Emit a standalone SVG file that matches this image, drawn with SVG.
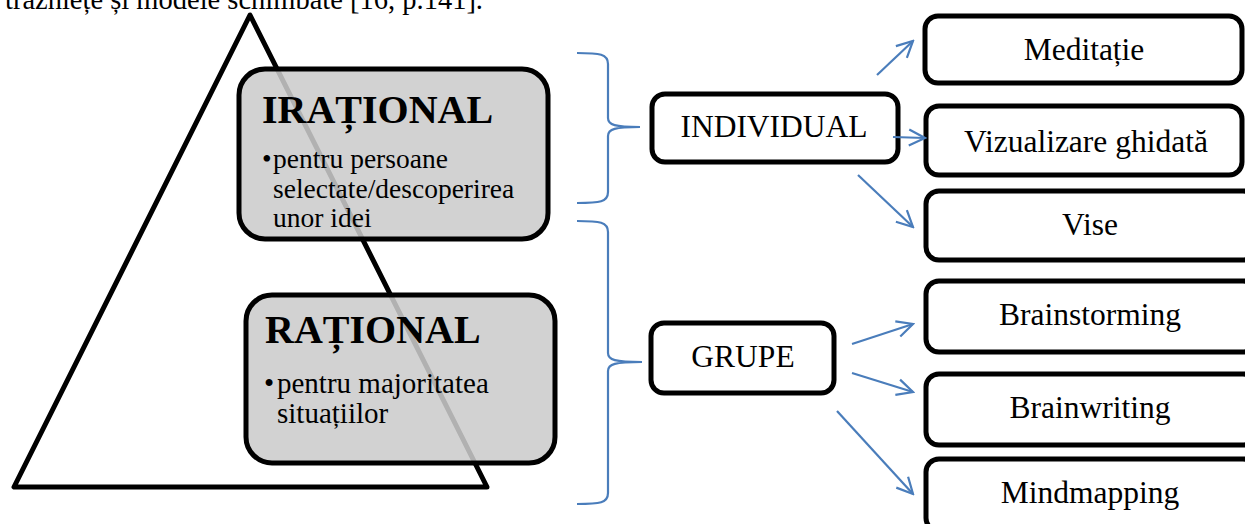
<svg xmlns="http://www.w3.org/2000/svg" width="1245" height="524" viewBox="0 0 1245 524">
<defs>
<style>
.t{font-family:"Liberation Serif","Times New Roman",serif;fill:#000}
.nb{fill:#fff;stroke:#000;stroke-width:5}
.gb{fill:#cbcbcb;fill-opacity:0.87;stroke:#000;stroke-width:5}
.c{fill:none;stroke:#4a7dbb;stroke-width:2.2}
.node{font-size:31.5px;text-anchor:middle}
.head{font-size:40px;font-weight:bold}
</style>
<marker id="ah" viewBox="0 0 20 20" refX="18" refY="10" markerWidth="20" markerHeight="20" markerUnits="userSpaceOnUse" orient="auto">
<path d="M2,2 L18,10 L2,18" fill="none" stroke="#4a7dbb" stroke-width="2.2"/>
</marker>
</defs>
<rect width="1245" height="524" fill="#fff"/>
<text class="t" x="483" y="9" font-size="28.5" text-anchor="end">trăzniețe și modele schimbate [16, p.141].</text>

<g id="triangle">
<polygon points="250,15 14,487 487,487" fill="none" stroke="#000" stroke-width="5" stroke-linejoin="round"/>
</g>

<g id="irational">
<rect class="gb" x="239" y="69" width="309" height="170" rx="26"/>
<text class="t head" x="262" y="123">IRAȚIONAL</text>
<text class="t" font-size="27.5" x="262" y="168">•</text>
<text class="t" font-size="27.5" x="273" y="168">pentru persoane</text>
<text class="t" font-size="27.5" x="273" y="197.5">selectate/descoperirea</text>
<text class="t" font-size="27.5" x="273" y="227">unor idei</text>
</g>

<g id="rational">
<rect class="gb" x="246" y="295" width="309" height="168" rx="26"/>
<text class="t head" x="265" y="343">RAȚIONAL</text>
<text class="t" font-size="29" x="264" y="393">•</text>
<text class="t" font-size="29" x="277" y="393">pentru majoritatea</text>
<text class="t" font-size="29" x="277" y="423">situațiilor</text>
</g>

<g id="individual">
<rect class="nb" x="652" y="94" width="246" height="68" rx="13"/>
<text class="t node" x="774" y="137">INDIVIDUAL</text>
</g>

<g id="grupe">
<rect class="nb" x="651" y="323" width="183" height="70" rx="13"/>
<text class="t node" x="743" y="367">GRUPE</text>
</g>

<g id="meditatie">
<rect class="nb" x="925" y="16" width="317" height="67" rx="13"/>
<text class="t node" x="1084" y="60">Meditație</text>
</g>
<g id="vizualizare">
<rect class="nb" x="926" y="106" width="316" height="69" rx="13"/>
<text class="t node" x="1086" y="152">Vizualizare ghidată</text>
</g>
<g id="vise">
<rect class="nb" x="926" y="191" width="330" height="69" rx="13"/>
<text class="t node" x="1090" y="235">Vise</text>
</g>
<g id="brainstorming">
<rect class="nb" x="926" y="281" width="330" height="71" rx="13"/>
<text class="t node" x="1090" y="325">Brainstorming</text>
</g>
<g id="brainwriting">
<rect class="nb" x="926" y="374" width="330" height="71" rx="13"/>
<text class="t node" x="1090" y="418">Brainwriting</text>
</g>
<g id="mindmapping">
<rect class="nb" x="926" y="459" width="330" height="72" rx="13"/>
<text class="t node" x="1090" y="503">Mindmapping</text>
</g>

<g id="connectors">
<path class="c" d="M577,53 C600,53 608,54 608,64 L608,118 C608,125 615,127 640,127 C615,127 608,129 608,136 L608,192 C608,202 600,203 577,203"/>
<path class="c" d="M577,221 C600,221 608,222 608,232 L608,353 C608,360 615,362 642,362 C615,362 608,364 608,371 L608,493 C608,503 600,504 577,504"/>
<line class="c" x1="877" y1="75" x2="913" y2="41" marker-end="url(#ah)"/>
<line class="c" x1="893" y1="137" x2="925" y2="138" marker-end="url(#ah)"/>
<line class="c" x1="858" y1="175" x2="913" y2="227" marker-end="url(#ah)"/>
<line class="c" x1="852" y1="344" x2="913" y2="324" marker-end="url(#ah)"/>
<line class="c" x1="852" y1="373" x2="913" y2="392" marker-end="url(#ah)"/>
<line class="c" x1="837" y1="411" x2="913" y2="494" marker-end="url(#ah)"/>
</g>
</svg>
